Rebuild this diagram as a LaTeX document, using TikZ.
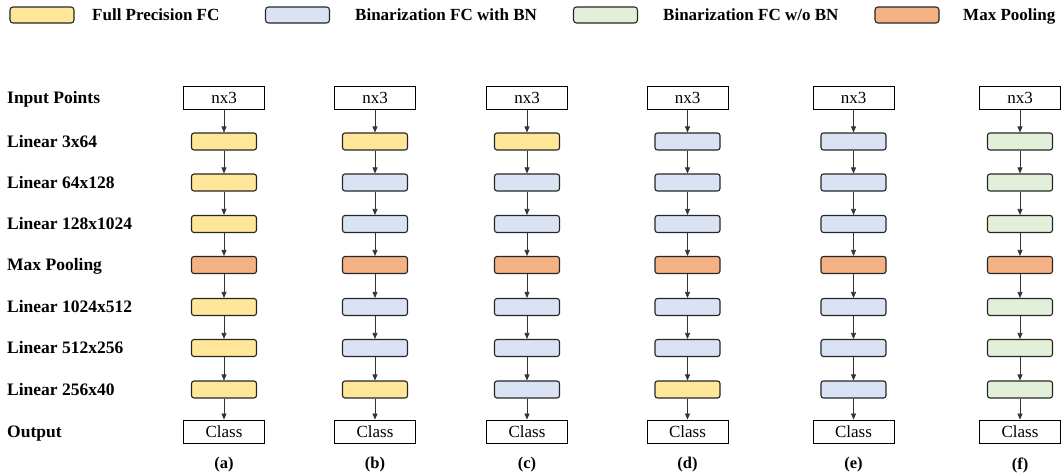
\documentclass[tikz,border=0pt]{standalone}
\usepackage{fontspec}
\setmainfont{Liberation Serif}
\usetikzlibrary{arrows.meta}
\definecolor{fpY}{HTML}{FFE699}
\definecolor{bnB}{HTML}{DAE3F3}
\definecolor{woG}{HTML}{E2F0D9}
\definecolor{mpO}{HTML}{F4B183}
\tikzset{
  fcbox/.style={draw=black!85, line width=1.1pt, rounded corners=2.5pt, minimum width=65pt, minimum height=17pt, inner sep=0pt},
  legbox/.style={draw=black!85, line width=1.1pt, rounded corners=3pt, minimum width=64pt, minimum height=16pt, inner sep=0pt},
  iobox/.style={draw=black, line width=0.9pt, minimum width=81pt, minimum height=23pt, inner sep=0pt, font=\rmfamily\fontsize{17}{17}\selectfont},
  rowlab/.style={anchor=west, inner sep=0pt, text height=11.3pt, text depth=0pt, font=\rmfamily\fontsize{17.5}{17.5}\selectfont\bfseries},
  leglab/.style={anchor=west, inner sep=0pt, text height=11.3pt, text depth=0pt, font=\rmfamily\fontsize{17}{17}\selectfont\bfseries},
  caplab/.style={inner sep=0pt, font=\rmfamily\fontsize{16.5}{16.5}\selectfont\bfseries},
  flow/.style={draw=black!80, line width=0.7pt, -{Triangle[length=6pt,width=5pt]}}
}
\newcommand\netcol[9]{%
  \node[iobox] (#1-0) at (#2,98) {nx3};
  \node[fcbox, fill=#3] (#1-1) at (#2,141.5) {};
  \node[fcbox, fill=#4] (#1-2) at (#2,182.5) {};
  \node[fcbox, fill=#5] (#1-3) at (#2,224) {};
  \node[fcbox, fill=#6] (#1-4) at (#2,265) {};
  \node[fcbox, fill=#7] (#1-5) at (#2,307) {};
  \node[fcbox, fill=#8] (#1-6) at (#2,348) {};
  \node[fcbox, fill=#9] (#1-7) at (#2,389.5) {};
  \node[iobox] (#1-8) at (#2,431.5) {Class};
  \node[caplab] (#1-cap) at (#2,465) {(#1)};
  \foreach \i [count=\j from 1] in {0,...,7} {\draw[flow] (#1-\i) -- (#1-\j);}
}
\begin{document}
\begin{tikzpicture}[x=1pt,y=-1pt]
\fill[white] (0,0) rectangle (1063,474);
\useasboundingbox (0,0) rectangle (1063,474);
% legend
\node[legbox, fill=fpY] (lg1) at (42,15) {};
\node[leglab] (lt1) at (92,15) {Full Precision FC};
\node[legbox, fill=bnB] (lg2) at (297.5,15) {};
\node[leglab] (lt2) at (355,15) {Binarization FC with BN};
\node[legbox, fill=woG] (lg3) at (605.5,15) {};
\node[leglab] (lt3) at (663,15) {Binarization FC w/o BN};
\node[legbox, fill=mpO] (lg4) at (907,15) {};
\node[leglab] (lt4) at (963,15) {Max Pooling};
% row labels
\node[rowlab] (rl0) at (7,98) {Input Points};
\node[rowlab] (rl1) at (7,141.5) {Linear 3x64};
\node[rowlab] (rl2) at (7,182.5) {Linear 64x128};
\node[rowlab] (rl3) at (7,224) {Linear 128x1024};
\node[rowlab] (rl4) at (7,265) {Max Pooling};
\node[rowlab] (rl5) at (7,307) {Linear 1024x512};
\node[rowlab] (rl6) at (7,348) {Linear 512x256};
\node[rowlab] (rl7) at (7,389.5) {Linear 256x40};
\node[rowlab] (rl8) at (7,431.5) {Output};
% columns
\netcol{a}{224}{fpY}{fpY}{fpY}{mpO}{fpY}{fpY}{fpY}
\netcol{b}{375}{fpY}{bnB}{bnB}{mpO}{bnB}{bnB}{fpY}
\netcol{c}{527}{fpY}{bnB}{bnB}{mpO}{bnB}{bnB}{bnB}
\netcol{d}{687.5}{bnB}{bnB}{bnB}{mpO}{bnB}{bnB}{fpY}
\netcol{e}{853.5}{bnB}{bnB}{bnB}{mpO}{bnB}{bnB}{bnB}
\netcol{f}{1020}{woG}{woG}{woG}{mpO}{woG}{woG}{woG}
\end{tikzpicture}
\end{document}
